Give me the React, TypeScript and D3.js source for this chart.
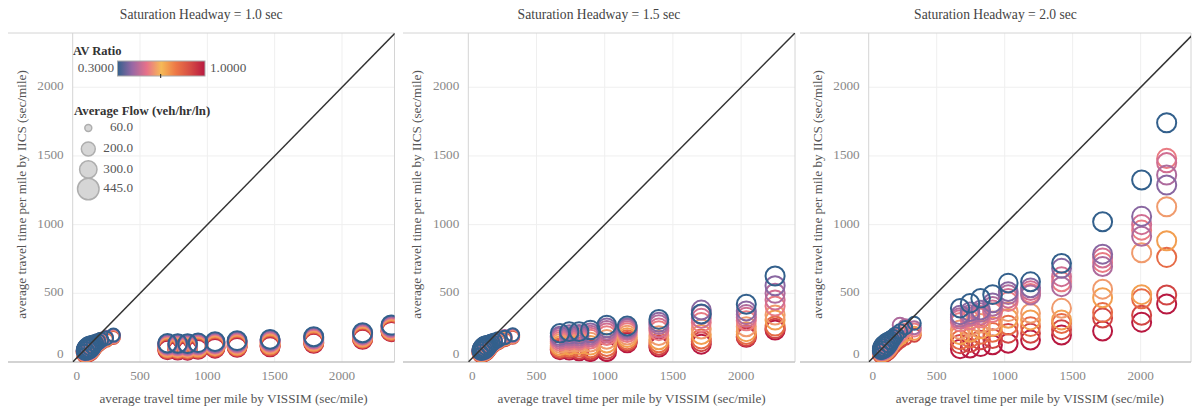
import React, { useEffect, useRef } from 'react';
import * as d3 from 'd3';

const headways = ['1.0', '1.5', '2.0'];
const avRatios = [0.3, 0.4, 0.45, 0.5, 0.55, 0.6, 0.7, 0.8, 0.9, 1.0];
const clusterRatios = [0.3, 0.45, 0.55, 0.7, 0.9];
const xTicks = [0, 500, 1000, 1500, 2000];
const yTicks = [0, 500, 1000, 1500, 2000];
const sizeLegendFlows = [60, 200, 300, 445];
const paletteColors = ['#33608c', '#9768a5', '#e7718a', '#f6ba57', '#ed7846', '#d54c45', '#b81840'];

// Saturation headway 1.0 sec: oversaturated columns
const vissimCols1 = [704, 780, 853, 931, 1057, 1221, 1466, 1790, 2153, 2365];
const flowCols1 = [350, 355, 358, 360, 362, 365, 368, 370, 372, 375];
const iicsCols1 = [
  [136, 131, 127, 123, 118, 113, 106, 99, 93, 87],
  [135, 130, 126, 121, 117, 112, 104, 98, 92, 86],
  [134, 129, 124, 121, 116, 110, 104, 97, 90, 85],
  [140, 135, 131, 126, 122, 117, 110, 103, 97, 92],
  [148, 143, 138, 135, 130, 124, 118, 111, 105, 100],
  [155, 150, 146, 141, 136, 131, 124, 118, 112, 107],
  [165, 160, 154, 150, 144, 138, 130, 122, 116, 111],
  [184, 179, 175, 169, 165, 160, 153, 146, 141, 136],
  [213, 208, 203, 199, 194, 189, 182, 176, 170, 165],
  [269, 264, 258, 254, 249, 244, 237, 230, 225, 221],
];
// Saturation headway 1.0 sec: undersaturated cluster
const vissimClu1 = [82, 88, 95, 102, 110, 118, 127, 137, 150, 165, 185, 210, 250, 302];
const flowClu1 = [120, 240, 320, 380, 420, 440, 420, 380, 330, 290, 260, 230, 200, 190];
const iicsClu1 = [
  [62, 60, 57, 52, 46],
  [72, 69, 66, 61, 55],
  [80, 77, 74, 69, 63],
  [88, 85, 82, 77, 71],
  [95, 92, 89, 84, 78],
  [102, 99, 96, 91, 85],
  [109, 106, 103, 98, 92],
  [117, 114, 111, 106, 100],
  [126, 123, 120, 115, 109],
  [136, 133, 130, 125, 119],
  [148, 145, 142, 137, 131],
  [160, 157, 154, 150, 144],
  [174, 178, 172, 166, 160],
  [196, 192, 188, 184, 178],
];

// Saturation headway 1.5 sec
const vissimCols2 = [672, 740, 812, 895, 1015, 1165, 1397, 1708, 2038, 2249];
const flowCols2 = [350, 355, 358, 360, 362, 365, 368, 370, 372, 375];
const iicsCols2 = [
  [209, 190, 178, 165, 150, 135, 118, 105, 95, 87],
  [221, 200, 186, 172, 158, 142, 124, 110, 96, 85],
  [221, 202, 188, 174, 160, 144, 126, 108, 92, 80],
  [233, 212, 196, 182, 166, 145, 122, 102, 88, 75],
  [268, 248, 230, 212, 192, 165, 138, 112, 92, 75],
  [262, 250, 240, 228, 214, 196, 178, 162, 150, 140],
  [310, 290, 272, 248, 228, 192, 162, 140, 122, 108],
  [350, 378, 345, 318, 288, 240, 200, 168, 148, 130],
  [420, 372, 345, 325, 300, 257, 221, 200, 185, 180],
  [626, 555, 500, 451, 408, 342, 306, 262, 245, 233],
];
const vissimClu2 = [82, 88, 95, 102, 110, 118, 127, 138, 152, 168, 190, 220, 268, 325];
const flowClu2 = [120, 240, 320, 380, 420, 440, 420, 380, 330, 290, 260, 230, 200, 190];
const iicsClu2 = [
  [64, 61, 58, 53, 47],
  [73, 70, 67, 62, 56],
  [81, 78, 75, 70, 64],
  [89, 86, 83, 78, 72],
  [96, 93, 90, 85, 79],
  [104, 101, 98, 93, 87],
  [111, 108, 105, 100, 94],
  [119, 116, 113, 108, 102],
  [128, 125, 122, 117, 111],
  [139, 136, 133, 128, 122],
  [151, 148, 145, 140, 134],
  [163, 160, 157, 152, 146],
  [178, 184, 176, 170, 164],
  [198, 194, 190, 186, 180],
];

// Saturation headway 2.0 sec
const vissimCols3 = [672, 745, 823, 911, 1026, 1190, 1418, 1720, 2007, 2191];
const flowCols3 = [350, 355, 358, 360, 362, 365, 368, 370, 372, 375];
const iicsCols3 = [
  [391, 342, 325, 310, 290, 235, 196, 160, 130, 95],
  [427, 366, 345, 330, 305, 257, 215, 175, 140, 100],
  [464, 378, 360, 340, 320, 282, 240, 200, 160, 111],
  [490, 430, 405, 380, 360, 300, 257, 215, 170, 124],
  [575, 512, 490, 464, 440, 366, 318, 269, 209, 136],
  [584, 540, 488, 520, 500, 354, 306, 257, 209, 160],
  [718, 682, 548, 621, 584, 391, 306, 280, 235, 196],
  [1021, 785, 695, 757, 725, 530, 468, 360, 320, 225],
  [1325, 1060, 915, 1000, 960, 795, 490, 460, 340, 290],
  [1742, 1288, 1361, 1451, 1482, 1130, 883, 762, 488, 422],
];
const vissimClu3 = [82, 88, 95, 102, 110, 120, 132, 145, 160, 178, 200, 230, 270, 335];
const flowClu3 = [120, 240, 320, 380, 420, 440, 420, 380, 330, 290, 260, 230, 200, 190];
const iicsClu3 = [
  [66, 62, 58, 52, 45],
  [76, 72, 67, 60, 52],
  [86, 81, 76, 68, 59],
  [96, 91, 85, 76, 66],
  [106, 100, 94, 85, 74],
  [117, 111, 104, 94, 82],
  [129, 123, 116, 104, 90],
  [142, 136, 128, 115, 100],
  [157, 151, 142, 128, 111],
  [174, 168, 158, 142, 122],
  [196, 192, 178, 160, 138],
  [222, 269, 200, 178, 155],
  [250, 262, 230, 200, 175],
  [282, 250, 233, 209, 195],
];

const panelData = [
  { vissimCols: vissimCols1, flowCols: flowCols1, iicsCols: iicsCols1, vissimClu: vissimClu1, flowClu: flowClu1, iicsClu: iicsClu1 },
  { vissimCols: vissimCols2, flowCols: flowCols2, iicsCols: iicsCols2, vissimClu: vissimClu2, flowClu: flowClu2, iicsClu: iicsClu2 },
  { vissimCols: vissimCols3, flowCols: flowCols3, iicsCols: iicsCols3, vissimClu: vissimClu3, flowClu: flowClu3, iicsClu: iicsClu3 },
];

// layout of the three panes
const layout = [
  { left: 8, paneLeft: 72.7, right: 394.5, xMax: 2390 },
  { left: 403, paneLeft: 468.3, right: 795, xMax: 2395 },
  { left: 800, paneLeft: 868.7, right: 1191, xMax: 2370 },
];

const FONT = '"Liberation Serif", serif';
const FS = '13.2px';
const TOP = 33;
const BOTTOM = 362;
const Y_MAX = 2395;

const App = () => {
  const svgRef = useRef(null);

  useEffect(() => {
    const svg = d3.select(svgRef.current);
    svg.selectAll('*').remove();

    const color = d3.scaleLinear<string>()
      .domain(paletteColors.map((_, i) => 0.3 + (i * 0.7) / 6))
      .range(paletteColors)
      .interpolate(d3.interpolateRgb);
    const size = d3.scaleSqrt().domain([0, 445]).range([0, 11.5]);
    const y = d3.scaleLinear().domain([0, Y_MAX]).range([BOTTOM, TOP]);

    const defs = svg.append('defs');
    const grad = defs.append('linearGradient').attr('id', 'avGrad');
    paletteColors.forEach((c, i) => {
      grad.append('stop').attr('offset', `${(i / 6) * 100}%`).attr('stop-color', c);
    });

    layout.forEach((L, p) => {
      const data = panelData[p];
      const x = d3.scaleLinear().domain([0, L.xMax]).range([L.paneLeft, L.right]);
      const g = svg.append('g');

      defs.append('clipPath').attr('id', `clip${p}`)
        .append('rect')
        .attr('x', L.paneLeft).attr('y', TOP)
        .attr('width', L.right - L.paneLeft).attr('height', BOTTOM - TOP);

      // gridlines
      g.selectAll('.vgrid').data(xTicks.filter(t => t > 0)).enter().append('line')
        .attr('x1', d => x(d)).attr('x2', d => x(d))
        .attr('y1', TOP).attr('y2', BOTTOM)
        .attr('stroke', '#efefef').attr('stroke-width', 1);
      g.selectAll('.hgrid').data(yTicks.filter(t => t > 0)).enter().append('line')
        .attr('x1', L.paneLeft).attr('x2', L.right)
        .attr('y1', d => y(d)).attr('y2', d => y(d))
        .attr('stroke', '#efefef').attr('stroke-width', 1);

      // frame
      g.append('line').attr('x1', L.left).attr('x2', L.right).attr('y1', TOP).attr('y2', TOP)
        .attr('stroke', '#d4d4d4');
      g.append('line').attr('x1', L.right).attr('x2', L.right).attr('y1', TOP).attr('y2', BOTTOM)
        .attr('stroke', '#d4d4d4');
      g.append('line').attr('x1', L.paneLeft).attr('x2', L.paneLeft).attr('y1', TOP).attr('y2', BOTTOM)
        .attr('stroke', '#d4d4d4');
      g.append('line').attr('x1', L.left).attr('x2', L.right).attr('y1', BOTTOM).attr('y2', BOTTOM)
        .attr('stroke', '#c4c4c4').attr('stroke-width', 1.5);

      // marks
      const marks = [];
      data.vissimCols.forEach((vx, j) => {
        avRatios.forEach((r, k) => {
          marks.push({ vx, vy: data.iicsCols[j][k], flow: data.flowCols[j], ratio: r });
        });
      });
      data.vissimClu.forEach((vx, j) => {
        clusterRatios.forEach((r, k) => {
          marks.push({ vx, vy: data.iicsClu[j][k], flow: data.flowClu[j], ratio: r });
        });
      });
      marks.sort((a, b) => b.ratio - a.ratio);

      const plot = g.append('g').attr('clip-path', `url(#clip${p})`);
      plot.selectAll('circle').data(marks).enter().append('circle')
        .attr('cx', d => x(d.vx))
        .attr('cy', d => y(d.vy))
        .attr('r', d => size(d.flow) - 1)
        .attr('fill', 'none')
        .attr('stroke', d => color(d.ratio))
        .attr('stroke-width', 2);

      // reference line y = x
      plot.append('line')
        .attr('x1', x(0)).attr('y1', y(0))
        .attr('x2', x(Y_MAX)).attr('y2', y(Y_MAX))
        .attr('stroke', '#333').attr('stroke-width', 1.5);

      // tick labels
      g.selectAll('.xtick').data(xTicks).enter().append('text')
        .attr('x', d => (d === 0 ? x(d) + 4 : x(d)))
        .attr('y', 377)
        .attr('text-anchor', 'middle')
        .attr('dominant-baseline', 'middle')
        .style('font-family', FONT).style('font-size', FS)
        .attr('fill', '#888')
        .text(d => d);
      g.selectAll('.ytick').data(yTicks).enter().append('text')
        .attr('x', L.paneLeft - 9)
        .attr('y', d => Math.min(y(d), BOTTOM - 7))
        .attr('text-anchor', 'end')
        .attr('dominant-baseline', 'middle')
        .style('font-family', FONT).style('font-size', FS)
        .attr('fill', '#888')
        .text(d => d);

      // titles
      g.append('text')
        .attr('x', (L.left + L.right) / 2).attr('y', 15.5)
        .attr('text-anchor', 'middle').attr('dominant-baseline', 'middle')
        .style('font-family', FONT).style('font-size', '13.6px')
        .attr('fill', '#444')
        .text(`Saturation Headway = ${headways[p]} sec`);
      g.append('text')
        .attr('x', (L.paneLeft + L.right) / 2).attr('y', 400)
        .attr('text-anchor', 'middle').attr('dominant-baseline', 'middle')
        .style('font-family', FONT).style('font-size', FS)
        .attr('fill', '#555')
        .text('average travel time per mile by VISSIM (sec/mile)');
      g.append('text')
        .attr('transform', `translate(${L.paneLeft - 50},${(TOP + BOTTOM) / 2 - 3}) rotate(-90)`)
        .attr('text-anchor', 'middle').attr('dominant-baseline', 'middle')
        .style('font-family', FONT).style('font-size', FS)
        .attr('fill', '#555')
        .text('average travel time per mile by IICS (sec/mile)');
    });

    // legends (inside first pane)
    const lg = svg.append('g');
    lg.append('text').attr('x', 73).attr('y', 52)
      .attr('dominant-baseline', 'middle')
      .style('font-family', FONT).style('font-size', '12.5px').style('font-weight', 'bold')
      .attr('fill', '#333').text('AV Ratio');
    lg.append('text').attr('x', 114).attr('y', 68.5)
      .attr('text-anchor', 'end').attr('dominant-baseline', 'middle')
      .style('font-family', FONT).style('font-size', FS)
      .attr('fill', '#555').text('0.3000');
    lg.append('rect').attr('x', 117.5).attr('y', 61).attr('width', 87.5).attr('height', 15)
      .attr('fill', 'url(#avGrad)').attr('stroke', '#aaa');
    lg.append('line').attr('x1', 160.7).attr('x2', 160.7).attr('y1', 74).attr('y2', 78)
      .attr('stroke', '#222');
    lg.append('text').attr('x', 210).attr('y', 68.5)
      .attr('dominant-baseline', 'middle')
      .style('font-family', FONT).style('font-size', FS)
      .attr('fill', '#555').text('1.0000');

    lg.append('text').attr('x', 74).attr('y', 112)
      .attr('dominant-baseline', 'middle')
      .style('font-family', FONT).style('font-size', '12.8px').style('font-weight', 'bold')
      .attr('fill', '#333').text('Average Flow (veh/hr/ln)');
    const legendY = [128, 149, 169.5, 189];
    lg.selectAll('.sz').data(sizeLegendFlows).enter().append('circle')
      .attr('cx', 88.3).attr('cy', (d, i) => legendY[i])
      .attr('r', d => size(d) - 0.75)
      .attr('fill', '#d6d6d6').attr('stroke', '#aeaeae').attr('stroke-width', 1.5);
    lg.selectAll('.szl').data(sizeLegendFlows).enter().append('text')
      .attr('x', 133).attr('y', (d, i) => legendY[i])
      .attr('text-anchor', 'end').attr('dominant-baseline', 'middle')
      .style('font-family', FONT).style('font-size', FS)
      .attr('fill', '#555').text(d => d.toFixed(1));
  }, []);

  return (
    <svg ref={svgRef} width={1192} height={410}
      style={{ position: 'absolute', left: 0, top: 0, background: '#fff' }} />
  );
};

export default App;
